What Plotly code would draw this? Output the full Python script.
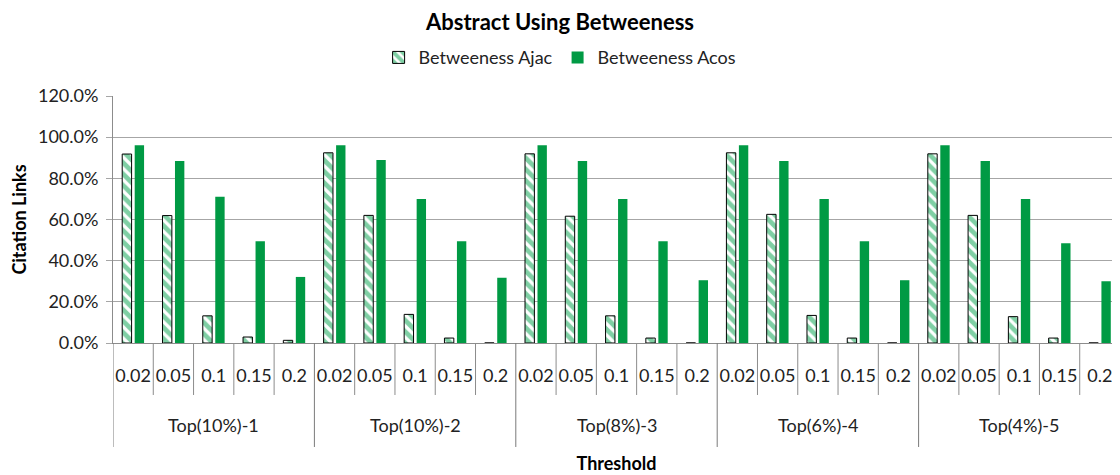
import plotly.graph_objects as go

groups = ["Top(10%)-1", "Top(10%)-2", "Top(8%)-3", "Top(6%)-4", "Top(4%)-5"]
thresholds = ["0.02", "0.05", "0.1", "0.15", "0.2"]

ajac = [
    [0.918, 0.619, 0.132, 0.029, 0.013],
    [0.924, 0.620, 0.139, 0.024, 0.0],
    [0.919, 0.616, 0.132, 0.024, 0.0],
    [0.924, 0.625, 0.134, 0.024, 0.0],
    [0.919, 0.620, 0.128, 0.024, 0.0],
]
acos = [
    [0.961, 0.884, 0.711, 0.494, 0.321],
    [0.961, 0.889, 0.700, 0.494, 0.317],
    [0.961, 0.884, 0.700, 0.494, 0.305],
    [0.961, 0.884, 0.700, 0.494, 0.305],
    [0.961, 0.884, 0.700, 0.485, 0.300],
]

nT = len(thresholds)
nG = len(groups)
pos = list(range(nG * nT))
tick_text = [t for _ in groups for t in thresholds]
y_ajac = [v for row in ajac for v in row]
y_acos = [v for row in acos for v in row]

FONT = "Lato"
TXT = "#222222"
GRID = "#A6A6A6"
SEP = "#8C8C8C"

# the page body adds an 8px offset; the figure is sized to fill the window
W, H = 1112, 467

fig = go.Figure()
fig.add_trace(go.Bar(
    name="Betweeness Ajac",
    x=pos, y=y_ajac,
    marker=dict(
        color="white",
        line=dict(color="black", width=1),
        pattern=dict(shape="\\", fgcolor="#00A04A", bgcolor="white", size=8, solidity=0.6),
    ),
))
fig.add_trace(go.Bar(
    name="Betweeness Acos",
    x=pos, y=y_acos,
    marker=dict(color="#009A44", line=dict(width=0)),
))

shapes = []
for k in range(nG * nT + 1):
    b = k - 0.5
    if k % nT == 0:
        y1 = -0.421
        col = "#7A7A7A"
    else:
        y1 = -0.2105
        col = SEP
    shapes.append(dict(type="line", xref="x", yref="paper", x0=b, x1=b, y0=0, y1=y1,
                       line=dict(color=col, width=1)))

annotations = []
for gi, g in enumerate(groups):
    cx = gi * nT + (nT - 1) / 2
    annotations.append(dict(text=g, x=cx, xref="x", y=-0.332, yref="paper",
                            showarrow=False, xanchor="center", yanchor="middle",
                            font=dict(family=FONT, size=18, color=TXT)))

fig.update_layout(
    width=W, height=H,
    margin=dict(l=105, r=0, t=88, b=132),
    paper_bgcolor="white", plot_bgcolor="white",
    font=dict(family=FONT, size=18, color=TXT),
    title=dict(text="<b>Abstract Using Betweeness</b>", x=552 / W, xref="container", xanchor="center",
               y=1 - 14 / H, yref="container", yanchor="middle",
               font=dict(family=FONT, size=22, color="black")),
    barmode="group", bargap=0.38, bargroupgap=0.25,
    legend=dict(orientation="h", x=0.444, xanchor="center", y=1.155, yanchor="middle",
                font=dict(family=FONT, size=18, color=TXT), itemwidth=30),
    showlegend=True,
    shapes=shapes,
    annotations=annotations,
)
fig.update_yaxes(
    range=[0, 1.2], dtick=0.2, tickformat=".1%",
    showgrid=True, gridcolor=GRID, gridwidth=1,
    showline=True, linecolor="#8C8C8C", linewidth=1,
    ticks="outside", ticklen=6, tickcolor=GRID, ticklabelstandoff=4,
    tickfont=dict(family=FONT, size=18, color=TXT),
    title=dict(text="<b>Citation Links</b>", font=dict(family=FONT, size=18, color="black"), standoff=8),
    zeroline=False, automargin=False,
)
fig.update_xaxes(
    range=[-0.5, nG * nT - 0.5],
    tickmode="array", tickvals=pos, ticktext=tick_text,
    showgrid=False, zeroline=False,
    showline=True, linecolor="#8C8C8C", linewidth=1,
    ticks="", ticklabelstandoff=16,
    tickfont=dict(family=FONT, size=18, color=TXT),
    title=dict(text="<b>Threshold</b>", font=dict(family=FONT, size=18, color="black"), standoff=72),
    automargin=False,
)

fig.write_html("out.html")
